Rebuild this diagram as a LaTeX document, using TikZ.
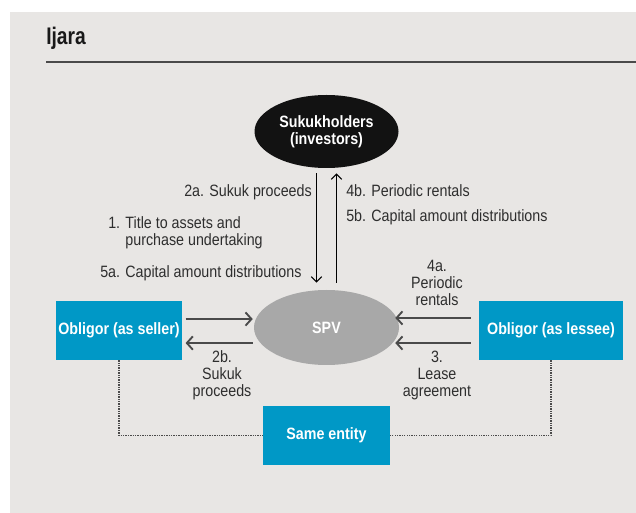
\documentclass[tikz,border=0pt]{standalone}
\usepackage{fontspec}
\setmainfont{Liberation Sans}[FakeStretch=0.87]
\newfontfamily\titlefont{Liberation Sans}[FakeStretch=0.8]
\usepackage{xcolor}
\usepackage{tikz}
\usetikzlibrary{positioning, arrows.meta, calc, shapes.geometric}
\definecolor{pagegrey}{HTML}{E8E6E4}
\definecolor{obligorblue}{HTML}{0098C6}
\definecolor{spvgrey}{HTML}{A8A8A8}
\definecolor{inkgrey}{HTML}{2E2E2E}
\definecolor{rulegrey}{HTML}{4A4A4A}
\newcommand{\labelsize}{\fontsize{12.3}{12.75}\selectfont}

\tikzset{
    party/.style={fill=obligorblue, text=white, font=\labelsize\bfseries,
                  minimum height=44.25pt, inner sep=2pt},
    holder/.style={ellipse, inner sep=0pt, text=white, font=\labelsize\bfseries, align=center},
    flow/.style={-{Straight Barb[length=4.5pt,width=10pt]}, rulegrey, line width=1.4pt},
    vflow/.style={-{Straight Barb[length=4pt,width=8pt]}, black, line width=0.8pt},
    link/.style={dash pattern=on 1pt off 0.8pt, rulegrey, line width=1.2pt},
    note/.style={text=inkgrey, inner sep=0pt, font=\labelsize},
}

\begin{document}
\begin{tikzpicture}[x=0.75pt, y=-0.75pt]
    \useasboundingbox (0,0) rectangle (636,513);
    \fill[pagegrey] (10,12) rectangle (636,513);

    \node[anchor=base west, inner sep=0pt, text=black!90,
          font=\titlefont\bfseries\fontsize{18}{20}\selectfont] (title) at (46,45) {Ijara};
    \draw[rulegrey, line width=1.5pt] (46,62) -- (636,62);

    \node[holder, fill=black!93, minimum width=108pt, minimum height=54.75pt] (sukuk) at (326.5,131.5) {Sukukholders\\(investors)};
    \node[holder, fill=spvgrey, minimum width=108.75pt, minimum height=56.25pt] (spv) at (326.5,327.5) {SPV};

    \node[party, minimum width=94.5pt] (seller) at (119,330.5) {Obligor (as seller)};
    \node[party, minimum width=108pt] (lessee) at (551,330.5) {Obligor (as lessee)};
    \node[party, minimum width=95.25pt] (same) at (326.5,435.5) {Same entity};

    \draw[vflow, shorten <=3.75pt, shorten >=5.25pt] ([xshift=-7.5pt]sukuk.south) -- ([xshift=-7.5pt]spv.north);
    \draw[vflow, shorten <=5.25pt, shorten >=3.75pt] ([xshift=7.5pt]spv.north) -- ([xshift=7.5pt]sukuk.south);

    \draw[flow, shorten <=2.25pt, shorten >=0.75pt] ([yshift=8.6pt]seller.east) -- ([yshift=8.6pt]seller.east -| spv.west);
    \draw[flow, shorten <=0.75pt, shorten >=2.25pt] ([yshift=-9.4pt]seller.east -| spv.west) -- ([yshift=-9.4pt]seller.east);
    \draw[flow, shorten <=6pt, shorten >=-3pt] ([yshift=9.4pt]lessee.west) -- ([yshift=9.4pt]lessee.west -| spv.east);
    \draw[flow, shorten <=6pt, shorten >=-3pt] ([yshift=-9.4pt]lessee.west) -- ([yshift=-9.4pt]lessee.west -| spv.east);

    \draw[link] (seller.south) |- (same.west);
    \draw[link] (lessee.south) |- (same.east);

    \node[note, anchor=east] (proceeds2a) at (312,192) {2a. Sukuk proceeds};
    \node[note, anchor=west] (title1) at (108,234) {\begin{tabular}{@{}l@{ }l@{}}1.&Title to assets and\\&purchase undertaking\end{tabular}};
    \node[note, anchor=west] (capital5a) at (100,273) {5a. Capital amount distributions};
    \node[note, anchor=west, align=left] (rentals4b) at (346,204.5) {4b. Periodic rentals\\[6pt]5b. Capital amount distributions};
    \node[note, align=center] (rentals4a) at (437,283) {4a.\\Periodic\\rentals};
    \node[note, align=center] (proceeds2b) at (222,375) {2b.\\Sukuk\\proceeds};
    \node[note, align=center] (lease3) at (437,375) {3.\\Lease\\agreement};
\end{tikzpicture}
\end{document}
